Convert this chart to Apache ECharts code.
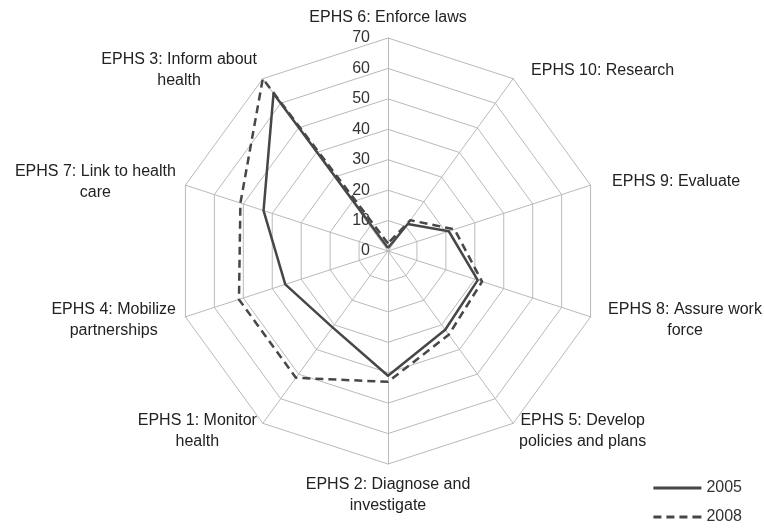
<!DOCTYPE html>
<html>
<head>
<meta charset="utf-8">
<script src="https://cdn.jsdelivr.net/npm/echarts@6/dist/echarts.min.js"></script>
<style>
  html, body { margin: 0; padding: 0; background: #ffffff; }
  #chart { width: 764px; height: 532px; }
</style>
</head>
<body>
<div id="chart"></div>
<script>
// indicators listed counter-clockwise from the top (echarts radar order)
const axisNames = [
  "EPHS 6: Enforce laws",
  "EPHS 3: Inform about\nhealth",
  "EPHS 7: Link to health\ncare",
  "EPHS 4: Mobilize\npartnerships",
  "EPHS 1: Monitor\nhealth",
  "EPHS 2: Diagnose and\ninvestigate",
  "EPHS 5: Develop\npolicies and plans",
  "EPHS 8: Assure work\nforce",
  "EPHS 9: Evaluate",
  "EPHS 10: Research",
];
const values2005 = [1, 64, 43, 35.5, 31, 41, 32, 31, 21, 11];
const values2008 = [2.5, 70, 51, 51.5, 51.5, 43, 34, 32.5, 23, 12.5];
const seriesNames = ["2005", "2008"];
const axisMax = 70;

const fontFam = "'Liberation Sans', Arial, sans-serif";
const lineColor = "#474747";

let myChart = echarts.init(document.getElementById("chart"));

// extra left padding for a few labels on the right side
const namePadLeft = { 7: 8, 8: 12, 9: 12 };

let indicator = axisNames.map((n, i) => {
  let ind = { name: n, max: axisMax, min: 0 };
  if (namePadLeft[i]) {
    ind.nameTextStyle = { padding: [0, 0, 0, namePadLeft[i]] };
  }
  if (i == 0) {
    ind.axisLabel = {
      show: true,
      margin: 18,
      color: "#333",
      fontSize: 16,
      fontFamily: fontFam,
      padding: [9, 0, 0, 0],
    };
  }
  return ind;
});

let option = {
  backgroundColor: "#ffffff",
  animation: false,
  legend: {
    orient: "vertical",
    right: 17,
    bottom: 2,
    itemWidth: 48,
    itemHeight: 3,
    itemGap: 13,
    textStyle: { color: "#333", fontSize: 16, fontFamily: fontFam },
    data: [
      { name: "2005", icon: "path://M0,0h48v3h-48z" },
      { name: "2008", icon: "path://M0,0h8v3h-8zM13,0h8v3h-8zM26,0h8v3h-8zM39,0h9v3h-9z" },
    ],
  },
  radar: {
    center: [388, 251],
    radius: 213,
    shape: "polygon",
    splitNumber: 7,
    nameGap: 10,
    axisName: {
      color: "#222",
      fontSize: 16,
      fontFamily: fontFam,
      lineHeight: 21,
      formatter: function (value) {
        return value
          .split("\n")
          .map((l) => "{c|" + l + "}")
          .join("\n");
      },
      rich: {
        c: {
          align: "center",
          color: "#222",
          fontSize: 16,
          fontFamily: fontFam,
          lineHeight: 21,
        },
      },
    },
    axisLine: { lineStyle: { color: "#bababa", width: 1 } },
    splitLine: { lineStyle: { color: "#bababa", width: 1 } },
    splitArea: { show: false },
    axisLabel: { show: false },
    indicator: indicator,
  },
  series: [
    {
      type: "radar",
      symbol: "none",
      data: [
        {
          name: seriesNames[0],
          value: values2005,
          lineStyle: { color: lineColor, width: 2.5, type: "solid" },
          itemStyle: { color: lineColor },
        },
        {
          name: seriesNames[1],
          value: values2008,
          lineStyle: { color: lineColor, width: 2.5, type: [8, 5] },
          itemStyle: { color: lineColor },
        },
      ],
    },
  ],
};

myChart.setOption(option);
</script>
</body>
</html>
